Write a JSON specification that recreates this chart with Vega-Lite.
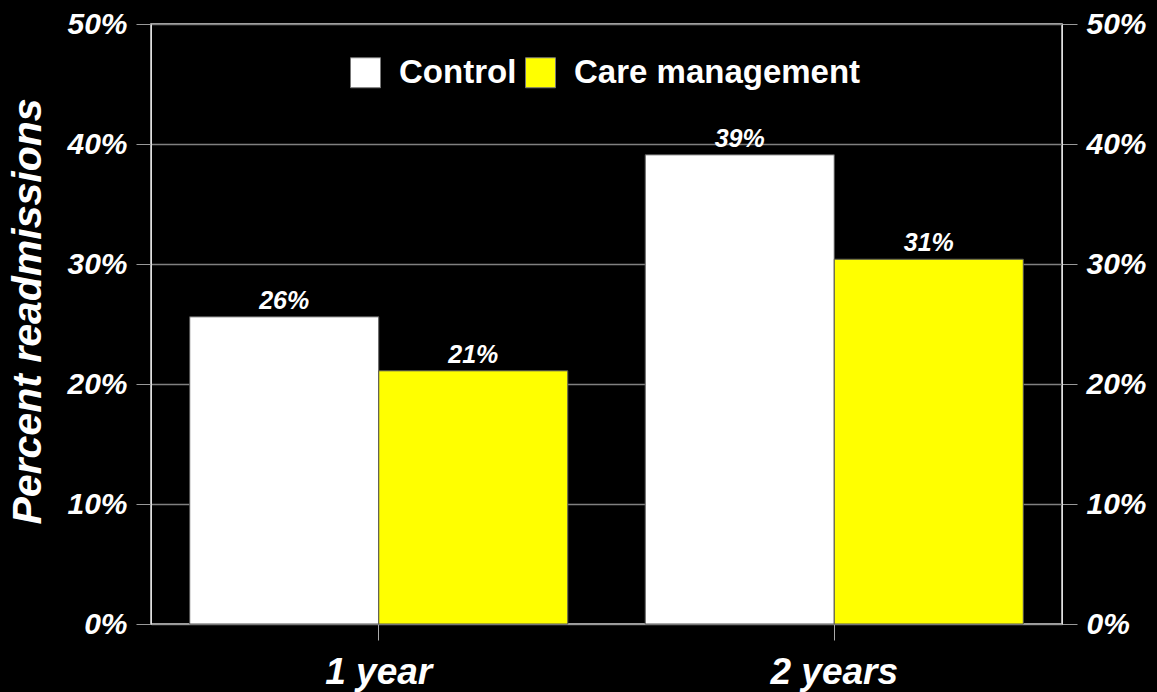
{
  "$schema": "https://vega.github.io/schema/vega-lite/v6.json",
  "width": 911,
  "height": 600,
  "autosize": {"type": "none"},
  "padding": {"left": 151, "top": 24, "right": 95, "bottom": 68},
  "background": "#000000",
  "config": {
    "view": {"stroke": "#e0e0e0", "strokeWidth": 1.5},
    "font": "Liberation Sans"
  },
  "data": {
    "values": [
      {"period": "1 year", "group": "Control", "value": 25.6, "label": "26%"},
      {"period": "1 year", "group": "Care management", "value": 21.1, "label": "21%"},
      {"period": "2 years", "group": "Control", "value": 39.1, "label": "39%"},
      {"period": "2 years", "group": "Care management", "value": 30.4, "label": "31%"}
    ]
  },
  "encoding": {
    "x": {
      "field": "period",
      "type": "nominal",
      "sort": ["1 year", "2 years"],
      "scale": {"paddingInner": 0.17, "paddingOuter": 0.085},
      "axis": {
        "title": null,
        "labelAngle": 0,
        "labelFontSize": 37,
        "labelFontWeight": "bold",
        "labelFontStyle": "italic",
        "labelColor": "#ffffff",
        "tickSize": 16,
        "tickColor": "#aaaaaa",
        "domainColor": "#999999",
        "labelPadding": 14
      }
    },
    "xOffset": {
      "field": "group",
      "type": "nominal",
      "sort": ["Control", "Care management"],
      "scale": {"paddingInner": 0, "paddingOuter": 0}
    }
  },
  "layer": [
    {
      "mark": {"type": "bar", "stroke": "#555555", "strokeWidth": 1},
      "encoding": {
        "y": {
          "field": "value",
          "type": "quantitative",
          "scale": {"domain": [0, 50]},
          "axis": {
            "orient": "left",
            "values": [0, 10, 20, 30, 40, 50],
            "labelExpr": "datum.value + '%'",
            "labelFontSize": 30,
            "labelFontWeight": "bold",
            "labelFontStyle": "italic",
            "labelColor": "#ffffff",
            "tickSize": 15,
            "tickColor": "#999999",
            "labelPadding": 9,
            "domainColor": "#e0e0e0",
            "gridColor": "#808080",
            "gridWidth": 1.5,
            "title": "Percent readmissions",
            "titleFontSize": 41,
            "titleFontWeight": "bold",
            "titleFontStyle": "italic",
            "titleColor": "#ffffff",
            "titleAngle": -90,
            "titleX": -111,
            "titleY": 287,
            "titleAlign": "center",
            "titleBaseline": "alphabetic"
          }
        },
        "color": {
          "field": "group",
          "type": "nominal",
          "sort": ["Control", "Care management"],
          "scale": {"domain": ["Control", "Care management"], "range": ["#ffffff", "#ffff00"]},
          "legend": {
            "title": null,
            "orient": "none",
            "legendX": 198,
            "legendY": 32,
            "direction": "horizontal",
            "labelFontSize": 33,
            "labelFontWeight": "bold",
            "labelColor": "#ffffff",
            "labelLimit": 500,
            "symbolType": "square",
            "symbolSize": 900,
            "symbolStrokeColor": "#777777",
            "symbolStrokeWidth": 1,
            "symbolOpacity": 1,
            "labelOffset": 17,
            "columnPadding": 6
          }
        }
      }
    },
    {
      "mark": {
        "type": "text",
        "color": "#ffffff",
        "fontSize": 25,
        "fontWeight": "bold",
        "fontStyle": "italic",
        "baseline": "alphabetic",
        "dy": -8
      },
      "encoding": {
        "y": {
          "field": "value",
          "type": "quantitative",
          "scale": {"domain": [0, 50]},
          "axis": {
            "orient": "right",
            "values": [0, 10, 20, 30, 40, 50],
            "labelExpr": "datum.value + '%'",
            "labelFontSize": 30,
            "labelFontWeight": "bold",
            "labelFontStyle": "italic",
            "labelColor": "#ffffff",
            "tickSize": 15,
            "tickColor": "#999999",
            "labelPadding": 9,
            "domainColor": "#e0e0e0",
            "grid": false,
            "title": null
          }
        },
        "text": {"field": "label"}
      }
    }
  ],
  "resolve": {"axis": {"y": "independent"}}
}
